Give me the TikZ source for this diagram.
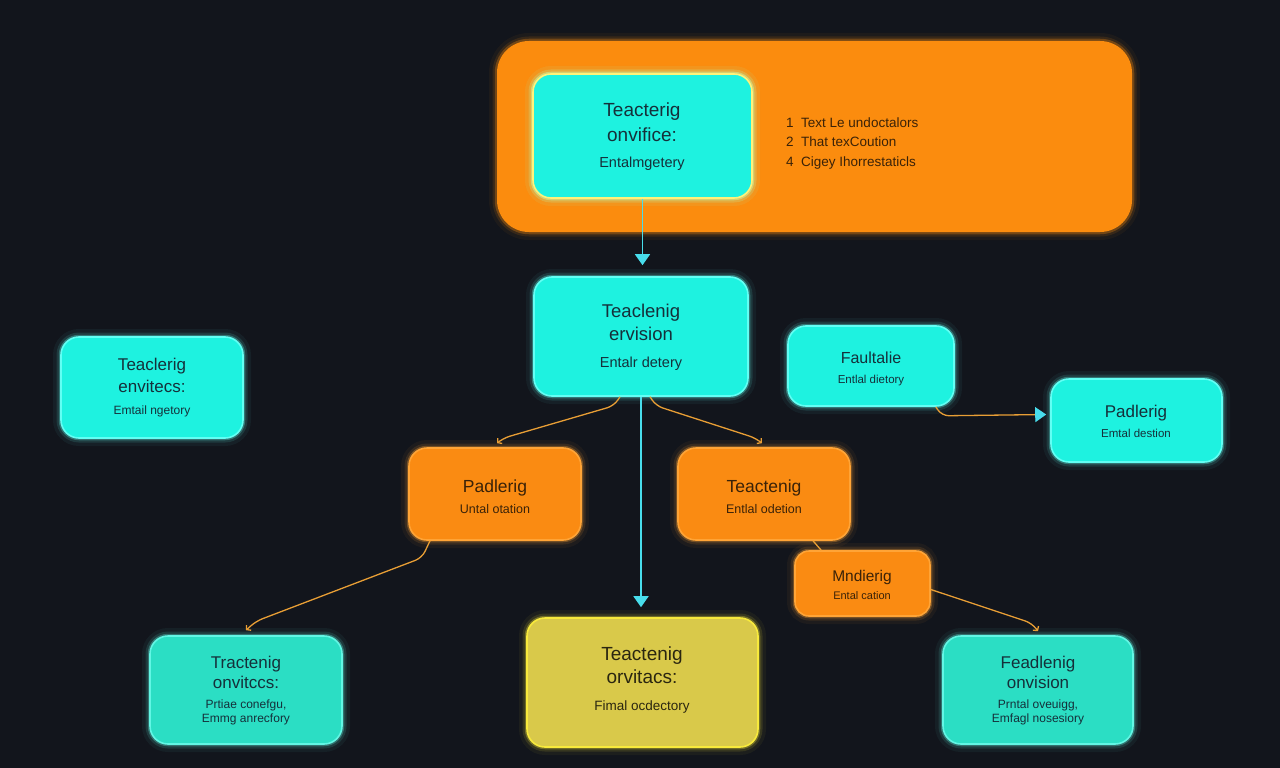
\documentclass[tikz,border=0pt]{standalone}
\usepackage{fontspec}
\setmainfont{Liberation Sans}
\usetikzlibrary{arrows.meta,calc}
\definecolor{bg}{HTML}{12151C}
\definecolor{orbig}{HTML}{FB8C0E}
\definecolor{cy}{HTML}{1EF2E0}
\definecolor{cyedge}{HTML}{62FFF4}
\definecolor{tl}{HTML}{2BDEC4}
\definecolor{tledge}{HTML}{62F6E4}
\definecolor{ylw}{HTML}{D9C94A}
\definecolor{ylwedge}{HTML}{F8EA3C}
\definecolor{orb}{HTML}{FA8B12}
\definecolor{oredge}{HTML}{FFA436}
\definecolor{topedge}{HTML}{FFF27A}
\definecolor{wire}{HTML}{E89E35}
\definecolor{cyarr}{HTML}{48DDEC}
\definecolor{txtd}{HTML}{15303A}
\definecolor{txto}{HTML}{3A2208}
\definecolor{txty}{HTML}{2A2610}
\tikzset{
  glow/.style={preaction={draw=#1,line width=16pt,opacity=0.05},
               preaction={draw=#1,line width=9pt,opacity=0.12},
               preaction={draw=#1,line width=4.5pt,opacity=0.3}},
  box/.style={rounded corners=18pt, inner sep=0pt, line width=1.6pt},
  cybox/.style={box, fill=cy, draw=cyedge, glow=cyedge},
  tlbox/.style={box, fill=tl, draw=tledge, glow=tledge},
  orbox/.style={box, fill=orb, draw=oredge, glow=oredge},
  ylbox/.style={box, fill=ylw, draw=ylwedge, glow=ylwedge},
  lbl/.style={anchor=base, inner sep=0pt, text=txtd},
  cyarrow/.style={draw=cyarr, line width=1.6pt, -{Triangle[length=11pt,width=15pt]}},
  wireln/.style={draw=wire, line width=1.3pt, rounded corners=7pt},
  wirearr/.style={wireln, -{Straight Barb[length=3pt,width=7pt]}},
}
\newcommand{\fs}[1]{\fontsize{#1}{#1}\selectfont}
\begin{document}
\begin{tikzpicture}[x=1pt,y=-1pt]
\useasboundingbox (0,0) rectangle (1280,768);
\fill[bg] (0,0) rectangle (1280,768);

% big container
\node[box, rounded corners=32pt, fill=orbig, glow=orbig, minimum width=635pt, minimum height=191pt] (big) at (814.5,136.5) {};

% boxes
\node[cybox, draw=topedge, glow=topedge, minimum width=219pt, minimum height=124pt] (top) at (642.5,136) {};
\node[cybox, minimum width=214pt, minimum height=119pt] (mid) at (641,336.5) {};
\node[cybox, minimum width=182pt, minimum height=101pt] (left) at (152,387.5) {};
\node[cybox, minimum width=166pt, minimum height=80pt] (fault) at (871,366) {};
\node[cybox, minimum width=171pt, minimum height=83pt] (padR) at (1136.5,420.5) {};
\node[orbox, minimum width=172pt, minimum height=92pt] (padO) at (495,494) {};
\node[orbox, minimum width=172pt, minimum height=92pt] (teacO) at (764,494) {};
\node[orbox, rounded corners=14pt, minimum width=135pt, minimum height=65pt] (mnd) at (862.5,583.5) {};
\node[tlbox, minimum width=192pt, minimum height=108pt] (tract) at (246,690) {};
\node[ylbox, minimum width=231pt, minimum height=129pt] (yel) at (642.5,682.5) {};
\node[tlbox, minimum width=190pt, minimum height=108pt] (fead) at (1038,690) {};

% texts: top box
\node[lbl, font=\fs{19}] (topA) at (642,117) {Teacterig};
\node[lbl, font=\fs{19}] (topB) at (642,141) {onvifice:};
\node[lbl, font=\fs{14.5}] (topC) at (642,167) {Entalmgetery};
% list
\node[lbl, anchor=base west, font=\fs{13.5}, text=txto] (l1) at (786,128) {1\ \ Text Le undoctalors};
\node[lbl, anchor=base west, font=\fs{13.5}, text=txto] (l2) at (786,146) {2\ \ That texCoution};
\node[lbl, anchor=base west, font=\fs{13.5}, text=txto] (l3) at (786,166) {4\ \ Cigey Ihorrestaticls};
% mid
\node[lbl, font=\fs{18.5}] (midA) at (641,317) {Teaclenig};
\node[lbl, font=\fs{18.5}] (midB) at (641,340) {ervision};
\node[lbl, font=\fs{14.5}] (midC) at (641,367) {Entalr detery};
% left
\node[lbl, font=\fs{17}] (leftA) at (152,370) {Teaclerig};
\node[lbl, font=\fs{17}] (leftB) at (152,392) {envitecs:};
\node[lbl, font=\fs{12}] (leftC) at (152,414) {Emtail ngetory};
% fault
\node[lbl, font=\fs{16}] (faultA) at (871,363) {Faultalie};
\node[lbl, font=\fs{11.5}] (faultB) at (871,383) {Entlal dietory};
% padR
\node[lbl, font=\fs{17}] (padRA) at (1136,417) {Padlerig};
\node[lbl, font=\fs{11.5}] (padRB) at (1136,437) {Emtal destion};
% padO
\node[lbl, font=\fs{17.5}, text=txto] (padOA) at (495,492) {Padlerig};
\node[lbl, font=\fs{12.5}, text=txto] (padOB) at (495,513) {Untal otation};
% teacO
\node[lbl, font=\fs{17.5}, text=txto] (teacOA) at (764,492) {Teactenig};
\node[lbl, font=\fs{12.5}, text=txto] (teacOB) at (764,513) {Entlal odetion};
% mnd
\node[lbl, font=\fs{15.5}, text=txto] (mndA) at (862,581) {Mndierig};
\node[lbl, font=\fs{11}, text=txto] (mndB) at (862,599) {Ental cation};
% tract
\node[lbl, font=\fs{17}] (tractA) at (246,668) {Tractenig};
\node[lbl, font=\fs{17}] (tractB) at (246,688) {onvitccs:};
\node[lbl, font=\fs{12}] (tractC) at (246,708) {Prtiae conefgu,};
\node[lbl, font=\fs{12}] (tractD) at (246,722) {Emmg anrecfory};
% yellow
\node[lbl, font=\fs{19}, text=txty] (yelA) at (642,660) {Teactenig};
\node[lbl, font=\fs{19}, text=txty] (yelB) at (642,683) {orvitacs:};
\node[lbl, font=\fs{13.5}, text=txty] (yelC) at (642,710) {Fimal ocdectory};
% fead
\node[lbl, font=\fs{17}] (feadA) at (1038,668) {Feadlenig};
\node[lbl, font=\fs{17}] (feadB) at (1038,688) {onvision};
\node[lbl, font=\fs{12}] (feadC) at (1038,708) {Prntal oveuigg,};
\node[lbl, font=\fs{12}] (feadD) at (1038,722) {Emfagl nosesiory};

% connectors
\draw[cyarrow, shorten >=11pt] (top.south) -- (top.south |- mid.north);
\draw[cyarrow, shorten >=10pt] (mid.south) -- (mid.south |- yel.north);

\draw[wirearr] ($(mid.south)+(-21,0)$) -- ++(-6,9) -- ($(padO.north)+(8,-9)$) -- ($(padO.north)+(2,-4)$);
\draw[wirearr] ($(mid.south)+(9,0)$) -- ++(6,9) -- ($(teacO.north)+(-8,-9)$) -- ($(teacO.north)+(-2,-4)$);
\draw[wirearr] ($(padO.south)+(-65,0)$) -- ++(-8,17) -- ($(tract.north)+(10,-14)$) -- ($(tract.north)+(0,-5)$);
\draw[wireln] ($(teacO.south)+(49,0)$) -- ($(mnd.north west)+(27,0)$);
\draw[wirearr] ($(mnd.east)+(0,6)$) -- ($(fead.north)+(-6,-12)$) -- ($(fead.north)+(0,-4)$);
\draw[wireln, -{Triangle[length=11pt,width=15pt,color=cyarr]}] ($(fault.south east)+(-19,0)$) -- ++(6,9) -- ($(padR.west)+(-4,-6)$);
\end{tikzpicture}
\end{document}
